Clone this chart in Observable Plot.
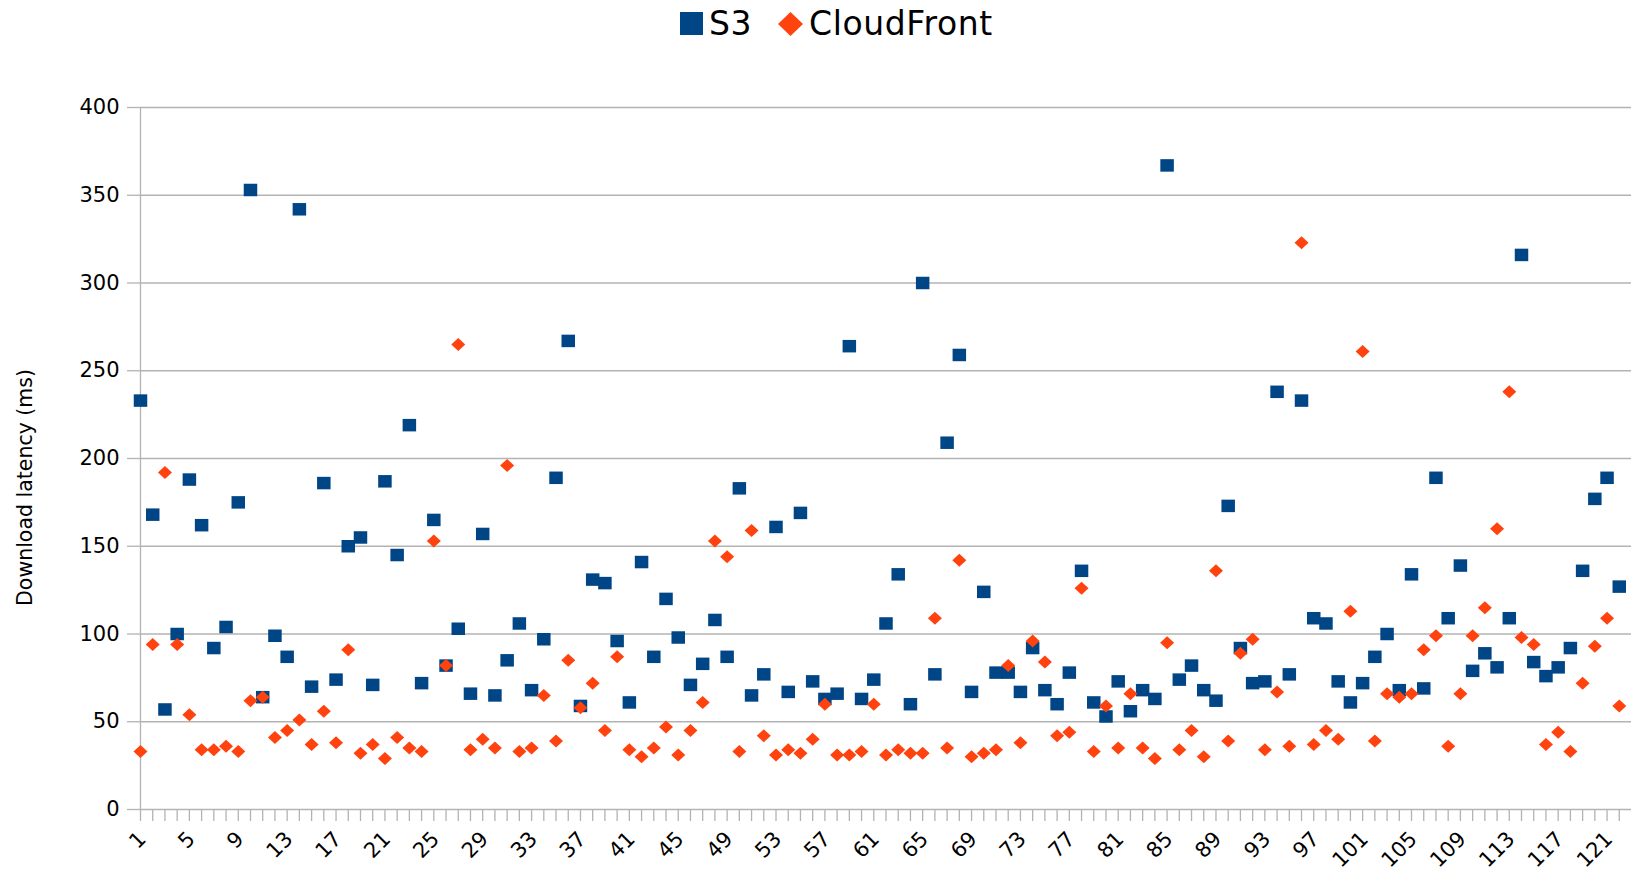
<!DOCTYPE html>
<html>
<head>
<meta charset="utf-8">
<script src="https://cdn.jsdelivr.net/npm/d3@7"></script>
<script src="https://cdn.jsdelivr.net/npm/@observablehq/plot@0.6"></script>
<style>
  html, body { margin: 0; padding: 0; background: #fff; overflow: hidden; }
  body { font-family: "DejaVu Sans", sans-serif; width: 1631px; height: 872px; }
  #legend { position: relative; width: 1631px; height: 60px; }
  #legend .sw { position: absolute; display: block; }
  #legend .lt { position: absolute; top: 7px; font-size: 33px; line-height: 33px; letter-spacing: 0.6px; color: #000; white-space: nowrap; }
  #chart svg { display: block; }
</style>
</head>
<body>
<div id="legend"></div>
<div id="chart"></div>
<script>
// ---- data ----
const seriesNames = ["S3", "CloudFront"];
const seriesColors = ["#004586", "#ff420e"];
const runs = Array.from({length: 122}, (_, i) => i + 1);
const xTickLabels = [1, 5, 9, 13, 17, 21, 25, 29, 33, 37, 41, 45, 49, 53, 57, 61, 65, 69, 73, 77, 81, 85, 89, 93, 97, 101, 105, 109, 113, 117, 121];
const yTicks = [0, 50, 100, 150, 200, 250, 300, 350, 400];
const yTitle = "Download latency (ms)";

const s3 = [
  233,168,57,100,188,162,92,104,175,353,
  64,99,87,342,70,186,74,150,155,71,
  187,145,219,72,165,82,103,66,157,65,
  85,106,68,97,189,267,59,131,129,96,
  61,141,87,120,98,71,83,108,87,183,
  65,77,161,67,169,73,63,66,264,63,
  74,106,134,60,300,77,209,259,67,124,
  78,78,67,92,68,60,78,136,61,53,
  73,56,68,63,367,74,82,68,62,173,
  92,72,73,238,77,233,109,106,73,61,
  72,87,100,68,134,69,189,109,139,79,
  89,81,109,316,84,76,81,92,136,177,
  189,127
];
const cloudFront = [
  33,94,192,94,54,34,34,36,33,62,
  64,41,45,51,37,56,38,91,32,37,
  29,41,35,33,153,82,265,34,40,35,
  196,33,35,65,39,85,58,72,45,87,
  34,30,35,47,31,45,61,153,144,33,
  159,42,31,34,32,40,60,31,31,33,
  60,31,34,32,32,109,35,142,30,32,
  34,82,38,96,84,42,44,126,33,59,
  35,66,35,29,95,34,45,30,136,39,
  89,97,34,67,36,323,37,45,40,113,
  261,39,66,64,66,91,99,36,66,99,
  115,160,238,98,94,37,44,33,72,93,
  109,59
];

// ---- legend ----
const legend = document.getElementById("legend");
legend.innerHTML = `
  <span class="sw" style="left:680px;top:12px;width:23px;height:23px;background:${seriesColors[0]}"></span>
  <span class="lt" style="left:709px">${seriesNames[0]}</span>
  <span class="sw" style="left:778px;top:12px;width:25px;height:24px;background:${seriesColors[1]};clip-path:polygon(50% 0,100% 50%,50% 100%,0 50%)"></span>
  <span class="lt" style="left:809px">${seriesNames[1]}</span>`;

// ---- marker symbols ----
const squareSym = {draw(ctx) { ctx.rect(-6.75, -6.25, 13.5, 12.5); }};
const diamondSym = {draw(ctx) { ctx.moveTo(0, -6.5); ctx.lineTo(7, 0); ctx.lineTo(0, 6.5); ctx.lineTo(-7, 0); ctx.closePath(); }};

const s3Data = runs.map((r, i) => ({run: r, value: s3[i]}));
const cfData = runs.map((r, i) => ({run: r, value: cloudFront[i]}));

const grid = "#b3b3b3";
const chart = Plot.plot({
  width: 1631,
  height: 812,
  marginLeft: 140,
  marginRight: 0,
  marginTop: 47,
  marginBottom: 63,
  style: {fontFamily: "DejaVu Sans, sans-serif", fontSize: "21px", color: "#000", background: "#fff", overflow: "visible"},
  x: {type: "linear", domain: [1, 123]},
  y: {domain: [0, 400]},
  marks: [
    Plot.ruleY(yTicks, {stroke: grid, strokeWidth: 1.3}),
    Plot.ruleX([1], {stroke: grid, strokeWidth: 1.3}),
    Plot.axisY(yTicks, {tickSize: 13, tickPadding: 8, stroke: grid, strokeWidth: 1.3, label: null, fontSize: 21}),
    Plot.axisX(runs, {tickSize: 12, tickFormat: () => "", stroke: grid, strokeWidth: 1.3, label: null}),
    Plot.axisX(xTickLabels, {tickSize: 0, tickRotate: -45, tickPadding: 26, dx: 2, label: null, fontSize: 21}),
    Plot.text([yTitle], {frameAnchor: "left", textAnchor: "middle", dx: -115, dy: 29, rotate: -90, fontSize: 20.5, fill: "#000"}),
    Plot.dot(s3Data, {x: "run", y: "value", symbol: squareSym, fill: seriesColors[0], stroke: "none"}),
    Plot.dot(cfData, {x: "run", y: "value", symbol: diamondSym, fill: seriesColors[1], stroke: "none"})
  ]
});
document.getElementById("chart").appendChild(chart);
</script>
</body>
</html>
